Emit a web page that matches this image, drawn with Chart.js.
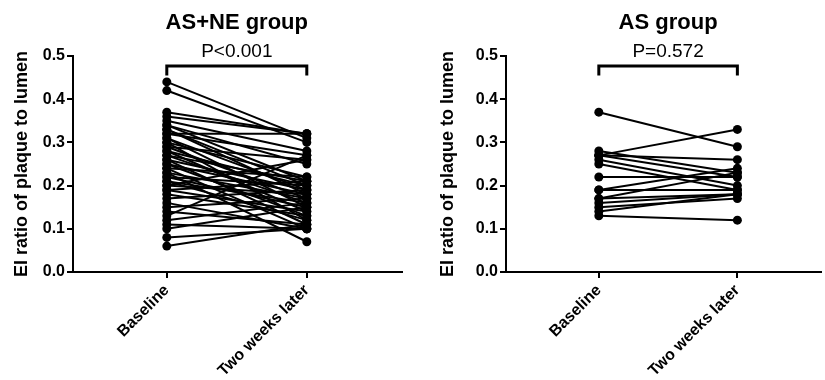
<!DOCTYPE html>
<html>
<head>
<meta charset="utf-8">
<script src="https://cdn.jsdelivr.net/npm/chart.js"></script>
<style>
  html, body { margin: 0; padding: 0; background: #fff; }
  .panel { position: absolute; top: 0; height: 380px; }
  #left { left: 0; width: 412px; }
  #right { left: 412px; width: 413px; }
</style>
</head>
<body>
<div class="panel" id="left"><canvas id="chartA"></canvas></div>
<div class="panel" id="right"><canvas id="chartB"></canvas></div>
<script>
const timepoints = ['Baseline', 'Two weeks later'];
const yTicks = [0, 0.1, 0.2, 0.3, 0.4, 0.5];

// AS+NE group, one pair per patient
const asneBaseline = [0.44, 0.42, 0.37, 0.36, 0.35, 0.34, 0.34, 0.33, 0.33, 0.32, 0.32, 0.31,
  0.31, 0.30, 0.30, 0.29, 0.29, 0.28, 0.28, 0.27, 0.27, 0.26, 0.26, 0.25, 0.25, 0.24, 0.24,
  0.23, 0.23, 0.22, 0.22, 0.21, 0.21, 0.20, 0.20, 0.19, 0.19, 0.18, 0.17, 0.16, 0.15, 0.14,
  0.13, 0.12, 0.11, 0.10, 0.08, 0.06];
const asneLater = [0.31, 0.30, 0.32, 0.32, 0.28, 0.21, 0.25, 0.20, 0.18, 0.32, 0.27, 0.19,
  0.15, 0.22, 0.12, 0.17, 0.26, 0.20, 0.14, 0.16, 0.21, 0.11, 0.19, 0.18, 0.13, 0.22, 0.10,
  0.17, 0.07, 0.15, 0.20, 0.16, 0.12, 0.18, 0.26, 0.14, 0.21, 0.13, 0.19, 0.10, 0.17, 0.11,
  0.27, 0.16, 0.10, 0.15, 0.10, 0.11];

// AS group
const asBaseline = [0.37, 0.28, 0.27, 0.27, 0.27, 0.26, 0.25, 0.22, 0.19, 0.19, 0.17, 0.17, 0.16, 0.15, 0.14, 0.13];
const asLater    = [0.29, 0.23, 0.33, 0.26, 0.22, 0.20, 0.19, 0.22, 0.19, 0.24, 0.23, 0.18, 0.18, 0.17, 0.18, 0.12];

const FONT = '"Liberation Sans", Arial, Helvetica, sans-serif';

const headerPlugin = {
  id: 'header',
  afterDraw(chart, args, o) {
    const ctx = chart.ctx;
    const x = chart.scales.x, y = chart.scales.y;
    const x1 = x.getPixelForValue(1), x2 = x.getPixelForValue(2);
    const yTop = y.getPixelForValue(o.bracketTop), yEnd = y.getPixelForValue(o.bracketEnd);
    ctx.save();
    ctx.strokeStyle = '#000';
    ctx.lineWidth = 3;
    ctx.beginPath();
    ctx.moveTo(x1, yEnd);
    ctx.lineTo(x1, yTop);
    ctx.lineTo(x2, yTop);
    ctx.lineTo(x2, yEnd);
    ctx.stroke();
    ctx.fillStyle = '#000';
    ctx.textAlign = 'center';
    ctx.textBaseline = 'alphabetic';
    const cx = (x1 + x2) / 2;
    ctx.font = 'bold 22px ' + FONT;
    ctx.fillText(o.title, cx, 29);
    ctx.font = '19px ' + FONT;
    ctx.fillText(o.pText, cx, 57);
    ctx.restore();
  }
};

function makeChart(id, title, pText, base, later, axisWidth, padRight, xMax, yTitlePad) {
  const datasets = base.map((b, i) => ({
    data: [{ x: 1, y: b }, { x: 2, y: later[i] }],
    showLine: true,
    borderColor: '#000',
    backgroundColor: '#000',
    borderWidth: 2,
    pointRadius: 4.5,
    pointBorderWidth: 0
  }));
  const axisStyle = {
    grid: { drawOnChartArea: false, color: '#000', lineWidth: 2, tickLength: 6 },
    border: { color: '#000', width: 2 }
  };
  return new Chart(document.getElementById(id), {
    type: 'scatter',
    data: { datasets },
    options: {
      responsive: true,
      maintainAspectRatio: false,
      animation: false,
      devicePixelRatio: 1,
      layout: { padding: { top: 56, right: padRight, left: 0, bottom: 0 } },
      plugins: {
        legend: { display: false },
        tooltip: { enabled: false },
        header: { title, pText, bracketTop: 0.477, bracketEnd: 0.455 }
      },
      scales: {
        x: {
          type: 'linear',
          min: 0.33,
          max: xMax,
          afterBuildTicks: s => { s.ticks = [{ value: 1 }, { value: 2 }]; },
          afterFit: s => { s.height = 108; },
          ticks: {
            callback: v => timepoints[v - 1],
            minRotation: 45,
            maxRotation: 45,
            autoSkip: false,
            color: '#000',
            padding: 3,
            font: { family: FONT, size: 16, weight: 'bold' }
          },
          ...axisStyle
        },
        y: {
          min: 0,
          max: 0.5,
          afterBuildTicks: s => { s.ticks = yTicks.map(v => ({ value: v })); },
          afterFit: s => { s.width = axisWidth; },
          ticks: {
            callback: v => v.toFixed(1),
            color: '#000',
            padding: 2,
            font: { family: FONT, size: 16, weight: 'bold' }
          },
          title: {
            display: true,
            text: 'EI ratio of plaque to lumen',
            color: '#000',
            padding: { top: yTitlePad, bottom: 0 },
            font: { family: FONT, size: 18, weight: 'bold' }
          },
          ...axisStyle
        }
      }
    },
    plugins: [headerPlugin]
  });
}

makeChart('chartA', 'AS+NE group', 'P<0.001', asneBaseline, asneLater, 73, 10, 2.68, 11);
makeChart('chartB', 'AS group', 'P=0.572', asBaseline, asLater, 94, 0, 2.6, 25);
</script>
</body>
</html>
